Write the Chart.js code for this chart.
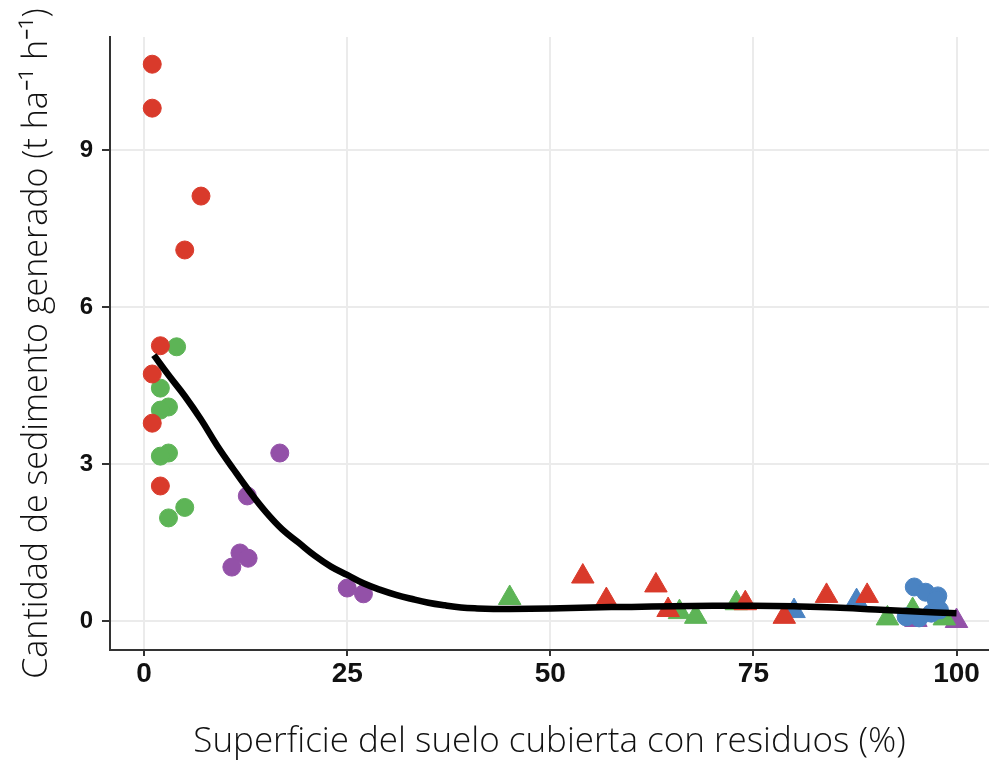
<!DOCTYPE html>
<html>
<head>
<meta charset="utf-8">
<script src="https://cdn.jsdelivr.net/npm/chart.js@4.4.0/dist/chart.umd.min.js"></script>
<style>
    html, body { margin: 0; padding: 0; background: #fff; }
    #wrap { width: 989px; height: 761px; }
</style>
</head>
<body>
<div id="wrap"><canvas id="myChart" width="989" height="761"></canvas></div>
<script>
// ticks
var xTicks = [0, 25, 50, 75, 100];
var yTicks = [0, 3, 6, 9];

// circles
var redCircleX = [1, 1, 7, 5, 2, 1, 1, 2];
var redCircleY = [10.64, 9.8, 8.12, 7.09, 5.26, 4.72, 3.78, 2.58];
var greenCircleX = [4, 2, 3, 2, 3, 2, 5, 3];
var greenCircleY = [5.24, 4.45, 4.09, 4.03, 3.21, 3.15, 2.17, 1.97];
var purpleCircleX = [16.7, 12.7, 11.8, 12.8, 10.8, 25, 27];
var purpleCircleY = [3.21, 2.39, 1.30, 1.20, 1.03, 0.63, 0.52];
var blueCircleX = [94.8, 96.2, 97.7, 97.5, 97.9, 96.9, 95.4, 93.8];
var blueCircleY = [0.65, 0.55, 0.48, 0.40, 0.21, 0.15, 0.06, 0.08];

// triangles
var redTriX = [54, 56.9, 63, 64.5, 74, 78.8, 84, 89];
var redTriY = [0.85, 0.40, 0.68, 0.21, 0.34, 0.08, 0.48, 0.48];
var greenTriX = [45, 65.9, 67.9, 72.9, 91.5, 94.6, 98.5];
var greenTriY = [0.44, 0.17, 0.08, 0.34, 0.05, 0.21, 0.05];
var blueTriX = [80, 87.7];
var blueTriY = [0.19, 0.38];
var purpleTriX = [100, 95];
var purpleTriY = [0, 0.02];

// fitted curve
var curveX = [1.2, 3, 5, 7, 9, 11, 13, 15, 17, 19, 21, 23, 25, 27, 29, 31, 33, 35, 37, 39, 41, 43, 45, 50, 55, 60, 65, 70, 75, 80, 85, 90, 95, 100];
var curveY = [5.08, 4.7, 4.3, 3.85, 3.35, 2.9, 2.47, 2.08, 1.75, 1.5, 1.25, 1.04, 0.88, 0.72, 0.6, 0.5, 0.42, 0.35, 0.3, 0.26, 0.24, 0.23, 0.23, 0.24, 0.26, 0.27, 0.28, 0.29, 0.29, 0.28, 0.26, 0.22, 0.18, 0.15];

var RED = '#d93a2b', GREEN = '#5db456', BLUE = '#4a83c2', PURPLE = '#9351a8';

function pts(xs, ys) {
    return xs.map(function(x, i) { return { x: x, y: ys[i] }; });
}

function circles(xs, ys, col) {
    return {
        data: pts(xs, ys), pointStyle: 'circle', pointRadius: 9, pointHoverRadius: 9,
        backgroundColor: col, borderColor: col, borderWidth: 1, order: 2
    };
}

function triangles(xs, ys, col) {
    return {
        data: pts(xs, ys), pointStyle: 'triangle', pointRadius: 13, pointHoverRadius: 13,
        backgroundColor: col, borderColor: col, borderWidth: 1, order: 2
    };
}

var tickFont = { family: 'Liberation Sans', weight: 'bold' };

var ctx = document.getElementById('myChart');
var myChart = new Chart(ctx, {
    type: 'scatter',
    data: {
        datasets: [
            {
                type: 'line', data: pts(curveX, curveY), showLine: true,
                borderColor: '#000', borderWidth: 6.5, pointRadius: 0, tension: 0.4,
                fill: false, order: 0
            },
            circles(redCircleX, redCircleY, RED),
            circles(greenCircleX, greenCircleY, GREEN),
            circles(purpleCircleX, purpleCircleY, PURPLE),
            circles(blueCircleX, blueCircleY, BLUE),
            triangles(redTriX, redTriY, RED),
            triangles(greenTriX, greenTriY, GREEN),
            triangles(blueTriX, blueTriY, BLUE),
            triangles(purpleTriX, purpleTriY, PURPLE)
        ]
    },
    options: {
        responsive: false,
        animation: false,
        devicePixelRatio: 1,
        layout: { autoPadding: false, padding: { top: 37, right: 0, left: 0, bottom: 0 } },
        plugins: { legend: { display: false }, tooltip: { enabled: false } },
        scales: {
            x: {
                type: 'linear', min: -4.2, max: 104,
                afterBuildTicks: function(scale) {
                    scale.ticks = xTicks.map(function(v) { return { value: v }; });
                },
                afterFit: function(scale) {
                    scale.height = 111;
                    scale.paddingLeft = 0;
                    scale.paddingRight = 0;
                },
                grid: { color: '#ebebeb', lineWidth: 2, tickColor: '#333', tickLength: 6, tickWidth: 2 },
                border: { color: '#333', width: 2 },
                ticks: { font: Object.assign({ size: 28 }, tickFont), color: '#111', padding: 1, maxRotation: 0 },
                title: {
                    display: true, text: 'Superficie del suelo cubierta con residuos (%)',
                    font: { family: 'Open Sans', weight: '300', size: 35, lineHeight: 1 },
                    color: '#111', padding: { top: 0, bottom: 1 }
                }
            },
            y: {
                type: 'linear', min: -0.554, max: 11.16,
                afterBuildTicks: function(scale) {
                    scale.ticks = yTicks.map(function(v) { return { value: v }; });
                },
                afterFit: function(scale) {
                    scale.width = 110;
                    scale.paddingTop = 0;
                    scale.paddingBottom = 0;
                },
                grid: { color: '#ebebeb', lineWidth: 2, tickColor: '#333', tickLength: 8, tickWidth: 2 },
                border: { color: '#333', width: 2 },
                ticks: { font: Object.assign({ size: 24 }, tickFont), color: '#111', padding: 9 },
                title: {
                    display: true, text: 'Cantidad de sedimento generado (t ha\u207B\u00B9 h\u207B\u00B9)',
                    font: { family: 'Open Sans', weight: '300', size: 34, lineHeight: 1 },
                    color: '#111', padding: { top: 20, bottom: 0 }
                }
            }
        }
    }
});
</script>
</body>
</html>
